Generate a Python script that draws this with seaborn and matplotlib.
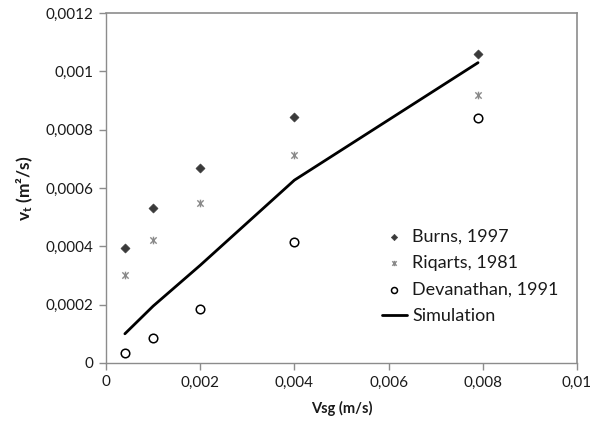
import numpy as np
import pandas as pd
import seaborn as sns
import matplotlib
matplotlib.use("Agg")
import matplotlib.pyplot as plt
from matplotlib.path import Path
from matplotlib.ticker import FuncFormatter, MultipleLocator

# Data
vsg = [0.0004, 0.001, 0.002, 0.004, 0.0079]
burns = [0.000393, 0.000533, 0.00067, 0.000845, 0.00106]
riqarts = [0.0003, 0.000423, 0.00055, 0.000712, 0.00092]
devanathan = [0.000034, 0.000087, 0.000185, 0.000416, 0.00084]
simulation = [0.0001, 0.000195, 0.000335, 0.000627, 0.00103]
labels = ["Burns, 1997", "Riqarts, 1981", "Devanathan, 1991", "Simulation"]

sns.set_style("white")
plt.rcParams['font.family'] = ['Lato', 'DejaVu Sans']
plt.rcParams['mathtext.fontset'] = 'custom'
plt.rcParams['mathtext.rm'] = 'Lato:bold'
plt.rcParams['mathtext.it'] = 'Lato:bold'
plt.rcParams['mathtext.bf'] = 'Lato:bold'

fig = plt.figure(figsize=(6.06, 4.23), dpi=100)
ax = fig.add_axes([0.175, 0.142, 0.777, 0.827])

# Excel-like star marker: X plus vertical bar
star = Path([(-1, -1), (1, 1), (-1, 1), (1, -1), (0, -1.2), (0, 1.2)],
            [Path.MOVETO, Path.LINETO, Path.MOVETO, Path.LINETO, Path.MOVETO, Path.LINETO])

df = pd.DataFrame({"vsg": vsg, "burns": burns, "riqarts": riqarts,
                   "dev": devanathan, "sim": simulation})

sns.lineplot(data=df, x="vsg", y="sim", ax=ax, color="black", linewidth=2.0,
             label=labels[3], zorder=2)
sns.scatterplot(data=df, x="vsg", y="burns", ax=ax, marker="D", s=22,
                color="#3a3a3a", edgecolor="#3a3a3a", label=labels[0], zorder=3)
sns.scatterplot(data=df, x="vsg", y="riqarts", ax=ax, marker=star, s=30,
                color="#8a8a8a", edgecolor="#8a8a8a", linewidth=1.0,
                label=labels[1], zorder=3)
sns.scatterplot(data=df, x="vsg", y="dev", ax=ax, marker="o", s=38,
                facecolor="white", edgecolor="black", linewidth=1.1,
                label=labels[2], zorder=3)

ax.set_xlim(0, 0.01)
ax.set_ylim(0, 0.0012)
ax.xaxis.set_major_locator(MultipleLocator(0.002))
ax.yaxis.set_major_locator(MultipleLocator(0.0002))
fmt = FuncFormatter(lambda v, p: "{:g}".format(round(v, 6)).replace(".", ","))
ax.xaxis.set_major_formatter(fmt)
ax.yaxis.set_major_formatter(fmt)

for sp in ax.spines.values():
    sp.set_visible(True)
    sp.set_color("#8c8c8c")
    sp.set_linewidth(1.0)
ax.spines['top'].set_linewidth(1.2)
ax.spines['right'].set_linewidth(1.2)

ax.tick_params(axis='both', which='major', direction='out', length=5,
               width=1.0, color="#8c8c8c", labelsize=11, labelcolor="#1a1a1a",
               left=True, bottom=True, pad=4)

ax.set_xlabel("Vsg (m/s)", fontsize=10.5, fontweight="bold", color="#1a1a1a", labelpad=8)
ax.set_ylabel(r"v$_{t}$ (m²/s)", fontsize=12.5, fontweight="bold",
              color="#1a1a1a", labelpad=8)

h, l = ax.get_legend_handles_labels()
order = [l.index(x) for x in labels]
leg = ax.legend([h[i] for i in order], [l[i] for i in order],
                loc="upper left", bbox_to_anchor=(0.57, 0.405), frameon=False,
                fontsize=13, handlelength=1.4, handletextpad=0.3,
                labelspacing=0.58, borderaxespad=0, markerscale=0.7)
for t in leg.get_texts():
    t.set_color("#1a1a1a")

fig.savefig("out.png", dpi=100, facecolor="white")
